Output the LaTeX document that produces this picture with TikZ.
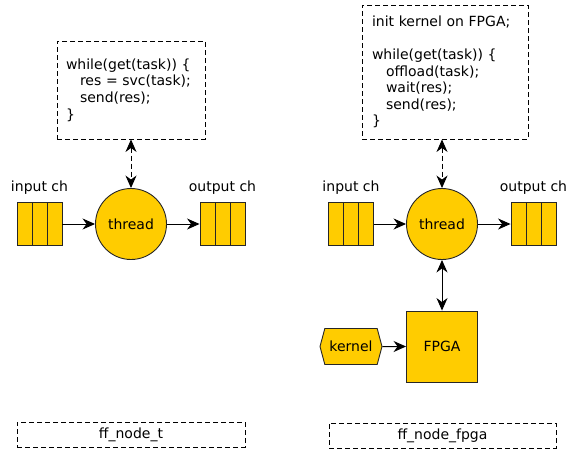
\documentclass[tikz,border=0pt]{standalone}
\usepackage{fontspec}
\setmainfont{DejaVu Sans}
\usetikzlibrary{arrows.meta,shapes.symbols}
\definecolor{gold}{HTML}{FFCC00}
\begin{document}
\begin{tikzpicture}[x=1pt,y=-1pt,
  every node/.style={font=\fontsize{14}{16.6}\selectfont, inner sep=0pt},
  codebox/.style={draw, dashed, dash pattern=on 5pt off 3pt, line width=0.9pt, align=left, text width=130pt, inner xsep=9pt, minimum width=148pt},
  namebox/.style={draw, dashed, dash pattern=on 5pt off 3pt, line width=0.9pt, minimum height=25pt},
  thr/.style={circle, draw=black!85, fill=gold, line width=0.9pt, minimum size=71pt},
  queue/.style={draw=black!85, fill=gold, line width=0.9pt, minimum width=45pt, minimum height=43pt,
    path picture={\draw[black!85, line width=0.9pt]
      ([xshift=15pt]path picture bounding box.north west) -- ([xshift=15pt]path picture bounding box.south west)
      ([xshift=30pt]path picture bounding box.north west) -- ([xshift=30pt]path picture bounding box.south west);}},
  tip/.tip={Stealth[length=12.5pt,width=11pt,inset=4pt]},
  arr/.style={line width=1pt, -tip},
  darr/.style={line width=1pt, tip-tip},
  ddarr/.style={darr, dashed, dash pattern=on 5pt off 3pt},
  ]
\useasboundingbox (0,0) rectangle (567,453);
% ---------- left ----------
\node[codebox, minimum height=98pt] (codeL) at (131,90) {while(get(task)) \{\\\hspace*{14pt}res = svc(task);\\\hspace*{14pt}send(res);\\\}};
\node[thr] (threadL) at (131,224) {thread};
\node[queue] (inL) at (39.5,224) {};
\node[queue] (outL) at (222.5,224) {};
\node (inLlab) at (39.5,188) {input ch};
\node (outLlab) at (222.5,188) {output ch};
\node[namebox, minimum width=228pt] (nodeL) at (131,434.5) {ff\_node\_t};
\draw[ddarr] (codeL) -- (threadL);
\draw[arr] (inL) -- (threadL);
\draw[arr] (threadL) -- (outL);
% ---------- right ----------
\node[codebox, minimum height=134pt, minimum width=164pt, text width=146pt, inner xsep=10pt] (codeR) at (445,72) {init kernel on FPGA;\\\mbox{}\\while(get(task)) \{\\\hspace*{14pt}offload(task);\\\hspace*{14pt}wait(res);\\\hspace*{14pt}send(res);\\\}};
\node[thr] (threadR) at (442,224) {thread};
\node[queue] (inR) at (351,224) {};
\node[queue] (outR) at (533.5,224) {};
\node (inRlab) at (351,188) {input ch};
\node (outRlab) at (533.5,188) {output ch};
\node[draw=black!85, fill=gold, line width=0.9pt, minimum size=71pt] (fpga) at (442,346.5) {FPGA};
\node[signal, signal to=west and east, signal pointer angle=150, draw=black!85, fill=gold, line width=0.9pt, minimum width=62pt, minimum height=36pt] (kernel) at (351,346.5) {kernel};
\node[namebox, minimum width=227pt] (nodeR) at (442.5,435.5) {ff\_node\_fpga};
\draw[ddarr] (codeR.south -| threadR) -- (threadR);
\draw[arr] (inR) -- (threadR);
\draw[arr] (threadR) -- (outR);
\draw[darr] (threadR) -- (fpga);
\draw[arr] (kernel) -- (fpga);
\end{tikzpicture}
\end{document}
